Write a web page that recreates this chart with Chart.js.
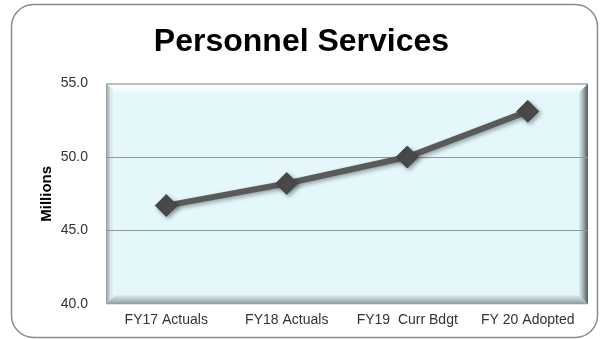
<!DOCTYPE html>
<html>
<head>
<meta charset="utf-8">
<script src="https://cdn.jsdelivr.net/npm/chart.js@4"></script>
<style>
  html, body { margin: 0; padding: 0; background: #fff; }
  #wrap { width: 600px; height: 339px; }
</style>
</head>
<body>
<div id="wrap"><canvas id="chart" width="600" height="339"></canvas></div>
<script>
const categories = ["FY17 Actuals", "FY18 Actuals", "FY19  Curr Bdgt", "FY 20 Adopted"];
const personnel = [46.7, 48.2, 50.0, 53.1];
const yTicks = [40, 45, 50, 55];

const FONT = "'Liberation Sans', Arial, sans-serif";

// rounded outer frame plus the bevelled plot panel
const framePlugin = {
  id: "frame",
  beforeDraw(chart) {
    const ctx = chart.ctx;
    const a = chart.chartArea;
    ctx.save();

    // outer rounded border
    ctx.beginPath();
    ctx.roundRect(11.5, 4.5, 586, 333, 22);
    ctx.strokeStyle = "#8a8a8a";
    ctx.lineWidth = 1.5;
    ctx.stroke();

    const L = a.left, T = a.top, R = a.right, B = a.bottom, b = 9;
    ctx.fillStyle = "#e4f8fc";
    ctx.fillRect(L, T, R - L, B - T);

    let g;
    // top band
    g = ctx.createLinearGradient(0, T, 0, T + b);
    g.addColorStop(0, "#ffffff");
    g.addColorStop(1, "#e8fafd");
    ctx.fillStyle = g;
    ctx.beginPath();
    ctx.moveTo(L, T); ctx.lineTo(R, T); ctx.lineTo(R - b, T + b); ctx.lineTo(L + b, T + b);
    ctx.closePath(); ctx.fill();

    // left band
    g = ctx.createLinearGradient(L, 0, L + b, 0);
    g.addColorStop(0, "#8f9c9c");
    g.addColorStop(0.5, "#d5e6e8");
    g.addColorStop(1, "#eefcfe");
    ctx.fillStyle = g;
    ctx.beginPath();
    ctx.moveTo(L, T); ctx.lineTo(L + b, T + b); ctx.lineTo(L + b, B - b); ctx.lineTo(L, B);
    ctx.closePath(); ctx.fill();

    // right band
    g = ctx.createLinearGradient(R - b, 0, R, 0);
    g.addColorStop(0, "#dcf0f3");
    g.addColorStop(0.45, "#a3b3b5");
    g.addColorStop(1, "#4e5a5a");
    ctx.fillStyle = g;
    ctx.beginPath();
    ctx.moveTo(R, T); ctx.lineTo(R, B); ctx.lineTo(R - b, B - b); ctx.lineTo(R - b, T + b);
    ctx.closePath(); ctx.fill();

    // bottom band
    g = ctx.createLinearGradient(0, B - b, 0, B);
    g.addColorStop(0, "#d8ecef");
    g.addColorStop(0.5, "#b4c4c6");
    g.addColorStop(1, "#8e9a9b");
    ctx.fillStyle = g;
    ctx.beginPath();
    ctx.moveTo(L, B); ctx.lineTo(R, B); ctx.lineTo(R - b, B - b); ctx.lineTo(L + b, B - b);
    ctx.closePath(); ctx.fill();

    // thin top edge
    ctx.strokeStyle = "#a4a9a9";
    ctx.lineWidth = 1.5;
    ctx.beginPath();
    ctx.moveTo(L, T + 0.5); ctx.lineTo(R, T + 0.5);
    ctx.stroke();

    ctx.restore();
  },
  beforeDatasetsDraw(chart) {
    const ctx = chart.ctx;
    ctx.save();
    ctx.shadowColor = "rgba(0,0,0,0.35)";
    ctx.shadowBlur = 4;
    ctx.shadowOffsetX = 2;
    ctx.shadowOffsetY = 2;
  },
  afterDatasetsDraw(chart) {
    chart.ctx.restore();
  }
};

new Chart(document.getElementById("chart"), {
  type: "line",
  data: {
    labels: categories,
    datasets: [{
      label: "Personnel Services",
      data: personnel,
      borderColor: "#5a5a5a",
      borderWidth: 6,
      pointStyle: "rectRot",
      pointRadius: 11,
      pointHoverRadius: 11,
      pointBackgroundColor: "#4a4a4a",
      pointBorderColor: "#4a4a4a",
      pointBorderWidth: 1,
      tension: 0
    }]
  },
  options: {
    responsive: false,
    animation: false,
    layout: { padding: { top: 10, right: 11, bottom: 2, left: 14 } },
    plugins: {
      legend: { display: false },
      tooltip: { enabled: false },
      title: {
        display: true,
        text: "Personnel Services",
        color: "#000",
        font: { family: FONT, size: 32, weight: "bold" },
        padding: { top: 13, bottom: 22 }
      }
    },
    scales: {
      x: {
        offset: true,
        grid: { display: false, drawTicks: false },
        border: { display: false },
        ticks: {
          color: "#333",
          font: { family: FONT, size: 14 },
          padding: 8,
          maxRotation: 0,
          autoSkip: false
        }
      },
      y: {
        min: 40,
        max: 55,
        afterBuildTicks(scale) {
          scale.ticks = yTicks.map(v => ({ value: v }));
        },
        afterFit(scale) {
          scale.width = 92;
        },
        grid: {
          drawTicks: false,
          color: ctx => (ctx.tick && (ctx.tick.value === 45 || ctx.tick.value === 50)) ? "#8c9a9a" : "rgba(0,0,0,0)",
          lineWidth: 1
        },
        border: { display: false },
        ticks: {
          color: "#333",
          font: { family: FONT, size: 14 },
          padding: 18,
          callback: v => Number(v).toFixed(1)
        },
        title: {
          display: true,
          text: "Millions",
          color: "#000",
          font: { family: FONT, size: 15, weight: "bold" },
          padding: { top: 24, bottom: 0 }
        }
      }
    }
  },
  plugins: [framePlugin]
});
</script>
</body>
</html>
